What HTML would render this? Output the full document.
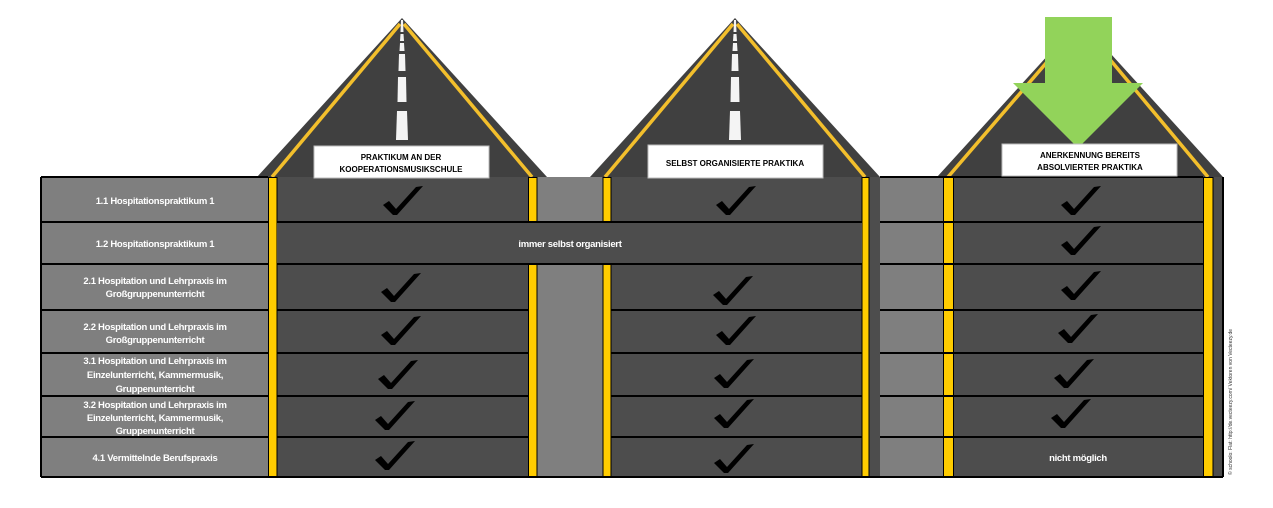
<!DOCTYPE html>
<html><head><meta charset="utf-8"><style>
html,body{margin:0;padding:0;background:#fff;}
svg{display:block;}
.lb{font-family:"Liberation Sans Narrow","Liberation Sans",sans-serif;font-weight:bold;font-size:9.5px;letter-spacing:-0.3px;fill:#fff;text-anchor:middle;}
.hd{font-family:"Liberation Sans Narrow","Liberation Sans",sans-serif;font-weight:bold;font-size:8px;fill:#000;text-anchor:middle;}
</style></head><body>
<svg width="1273" height="508" viewBox="0 0 1273 508" xmlns="http://www.w3.org/2000/svg">
<defs>
<polygon id="ck" points="-19,5 -13,1 -6,9 14,-13 21,-14 -5,15 -9,15" fill="#000"/>
<g id="road">
<polygon points="-145,177 0,18 145,177" fill="#404040"/>
<line x1="-2" y1="24" x2="-130" y2="177" stroke="#f3bf2c" stroke-width="3.5"/>
<line x1="2" y1="24" x2="130" y2="177" stroke="#f3bf2c" stroke-width="3.5"/>
</g>
<g id="dash" fill="#f4f4f4">
<polygon points="-1,20 1,20 1.5,32 -1.5,32"/>
<polygon points="-1.5,34 1.5,34 2,41 -2,41"/>
<polygon points="-2,43 2,43 2.5,51 -2.5,51"/>
<polygon points="-3,54 3,54 3.5,71 -3.5,71"/>
<polygon points="-4,77 4,77 4.5,102 -4.5,102"/>
<polygon points="-5,111 5,111 6,140 -6,140"/>
</g>
</defs>
<use href="#road" x="402"/><use href="#dash" x="402"/>
<use href="#road" x="735"/><use href="#dash" x="735"/>
<polygon points="937,177 1080,20 1223,177" fill="#404040"/>
<line x1="1078" y1="26" x2="948" y2="177" stroke="#f3bf2c" stroke-width="3.5"/>
<line x1="1082" y1="26" x2="1208" y2="177" stroke="#f3bf2c" stroke-width="3.5"/>

<rect x="41" y="177" width="227" height="300" fill="#7f7f7f"/>
<rect x="277" y="177" width="251" height="300" fill="#4d4d4d"/>
<rect x="537" y="177" width="66" height="300" fill="#7f7f7f"/>
<rect x="611" y="177" width="251" height="300" fill="#4d4d4d"/>
<rect x="869" y="177" width="11" height="300" fill="#4d4d4d"/>
<rect x="880" y="177" width="63" height="300" fill="#7f7f7f"/>
<rect x="954" y="177" width="249" height="300" fill="#4d4d4d"/>
<rect x="1213" y="177" width="10" height="300" fill="#4d4d4d"/>
<g fill="#ffcc00" stroke="#000" stroke-width="1">
<rect x="268.5" y="177.5" width="8.5" height="299"/>
<rect x="528.5" y="177.5" width="8.5" height="299"/>
<rect x="603" y="177.5" width="8" height="299"/>
<rect x="862" y="177.5" width="7" height="299"/>
<rect x="943.5" y="177.5" width="10" height="299"/>
<rect x="1203.5" y="177.5" width="9.5" height="299"/>
</g>
<rect x="277" y="222" width="585" height="42" fill="#4d4d4d"/>
<g stroke="#000" stroke-width="2">
<line x1="41" y1="177" x2="268" y2="177"/>
<line x1="41" y1="177" x2="41" y2="477"/>
<line x1="1223" y1="177" x2="1223" y2="477"/>
<line x1="41" y1="222" x2="268" y2="222"/><line x1="277" y1="222" x2="862" y2="222"/><line x1="880" y1="222" x2="1203" y2="222"/>
<line x1="41" y1="264" x2="268" y2="264"/><line x1="277" y1="264" x2="862" y2="264"/><line x1="880" y1="264" x2="1203" y2="264"/>
<line x1="41" y1="310" x2="268" y2="310"/><line x1="277" y1="310" x2="528" y2="310"/><line x1="611" y1="310" x2="862" y2="310"/><line x1="880" y1="310" x2="1203" y2="310"/>
<line x1="41" y1="353" x2="268" y2="353"/><line x1="277" y1="353" x2="528" y2="353"/><line x1="611" y1="353" x2="862" y2="353"/><line x1="880" y1="353" x2="1203" y2="353"/>
<line x1="41" y1="396" x2="268" y2="396"/><line x1="277" y1="396" x2="528" y2="396"/><line x1="611" y1="396" x2="862" y2="396"/><line x1="880" y1="396" x2="1203" y2="396"/>
<line x1="41" y1="437" x2="268" y2="437"/><line x1="277" y1="437" x2="528" y2="437"/><line x1="611" y1="437" x2="862" y2="437"/><line x1="880" y1="437" x2="1203" y2="437"/>
<line x1="41" y1="477" x2="1223" y2="477"/>
<line x1="880" y1="177" x2="1203" y2="177"/>
</g>
<rect x="314" y="146" width="175" height="32" fill="#fff" stroke="#bbb" stroke-width="1"/>
<text class="hd" x="401" y="160">PRAKTIKUM AN DER</text>
<text class="hd" x="401" y="172">KOOPERATIONSMUSIKSCHULE</text>
<rect x="648" y="145" width="175" height="33" fill="#fff" stroke="#bbb" stroke-width="1"/>
<text class="hd" x="735" y="166">SELBST ORGANISIERTE PRAKTIKA</text>
<polygon points="1045,17 1112,17 1112,83 1143,83 1078,148 1013,83 1045,83" fill="#92d35a"/>
<rect x="1002" y="144" width="175" height="32" fill="#fff" stroke="#bbb" stroke-width="1"/>
<text class="hd" x="1090" y="158">ANERKENNUNG BEREITS</text>
<text class="hd" x="1090" y="170">ABSOLVIERTER PRAKTIKA</text>
<text class="lb" x="155" y="204">1.1 Hospitationspraktikum 1</text>
<text class="lb" x="155" y="247">1.2 Hospitationspraktikum 1</text>
<text class="lb" x="155" y="284">2.1 Hospitation und Lehrpraxis im</text>
<text class="lb" x="155" y="297">Großgruppenunterricht</text>
<text class="lb" x="155" y="330">2.2 Hospitation und Lehrpraxis im</text>
<text class="lb" x="155" y="343">Großgruppenunterricht</text>
<text class="lb" x="155" y="364">3.1 Hospitation und Lehrpraxis im</text>
<text class="lb" x="155" y="378">Einzelunterricht, Kammermusik,</text>
<text class="lb" x="155" y="392">Gruppenunterricht</text>
<text class="lb" x="155" y="408">3.2 Hospitation und Lehrpraxis im</text>
<text class="lb" x="155" y="421">Einzelunterricht, Kammermusik,</text>
<text class="lb" x="155" y="434">Gruppenunterricht</text>
<text class="lb" x="155" y="461">4.1 Vermittelnde Berufspraxis</text>
<text class="lb" x="570" y="247">immer selbst organisiert</text>
<text class="lb" x="1078" y="461">nicht möglich</text>
<use href="#ck" x="402" y="200"/><use href="#ck" x="400" y="287"/><use href="#ck" x="400" y="330"/>
<use href="#ck" x="397" y="374"/><use href="#ck" x="394" y="415"/><use href="#ck" x="394" y="455"/>
<use href="#ck" x="735" y="200"/><use href="#ck" x="732" y="290"/><use href="#ck" x="735" y="330"/>
<use href="#ck" x="733" y="373"/><use href="#ck" x="733" y="413"/><use href="#ck" x="733" y="458"/>
<use href="#ck" x="1080" y="200"/><use href="#ck" x="1080" y="240"/><use href="#ck" x="1080" y="285"/>
<use href="#ck" x="1077" y="328"/><use href="#ck" x="1073" y="373"/><use href="#ck" x="1070" y="413"/>
<text x="1232" y="475" transform="rotate(-90 1232 475)" font-family="Liberation Sans Narrow, Liberation Sans, sans-serif" font-size="5" fill="#333">© schoolo: Flat: http://de.vecteezy.com/ Vektoren von Vecteezy.de</text>
</svg>
</body></html>
